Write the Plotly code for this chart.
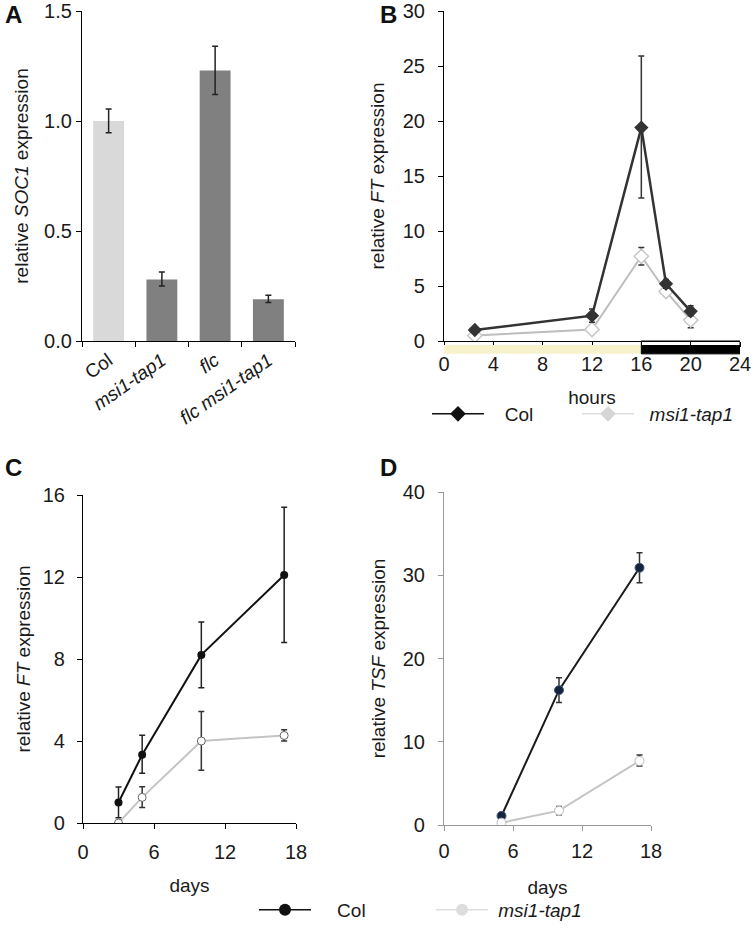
import plotly.graph_objects as go

W, H = 756, 931
FONT = "Liberation Sans, Arial, sans-serif"
NB = "\u00a0"

# panel A - SOC1
a_genotypes = ["Col", "<i>msi1-tap1</i>", "<i>flc</i>", "<i>flc msi1-tap1</i>"]
a_values = [1.0, 0.28, 1.23, 0.19]
a_err_up = [0.055, 0.034, 0.11, 0.018]
a_err_down = [0.053, 0.03, 0.11, 0.015]
a_colors = ["#d9d9d9", "#808080", "#808080", "#808080"]

# panel B - FT over the day
b_hours = [2.5, 12, 16, 18, 20]
b_col = [1.0, 2.3, 19.4, 5.2, 2.7]
b_col_up = [0.2, 0.6, 6.5, 0.4, 0.5]
b_col_down = [0.2, 0.6, 6.4, 0.4, 0.4]
b_msi = [0.5, 1.05, 7.7, 4.5, 1.9]
b_msi_up = [0.15, 0.2, 0.8, 0.3, 0.6]
b_msi_down = [0.15, 0.2, 0.8, 0.3, 0.7]

# panel C - FT over development
c_days = [3, 5, 10, 17]
c_col = [1.0, 3.33, 8.2, 12.1]
c_col_up = [0.75, 0.95, 1.6, 3.3]
c_col_down = [0.75, 0.9, 1.6, 3.3]
c_msi = [0.0, 1.25, 4.0, 4.27]
c_msi_up = [0.0, 0.52, 1.44, 0.28]
c_msi_down = [0.0, 0.5, 1.43, 0.27]

# panel D - TSF over development
d_days = [5, 10, 17]
d_col = [1.1, 16.2, 30.9]
d_col_up = [0.3, 1.5, 1.8]
d_col_down = [0.3, 1.5, 1.8]
d_msi = [0.28, 1.72, 7.7]
d_msi_up = [0.2, 0.5, 0.7]
d_msi_down = [0.2, 0.5, 0.6]


def xdom(x0, x1):
    return [x0 / W, x1 / W]


def ydom(top, bottom):
    return [1 - bottom / H, 1 - top / H]


def err(up, down, color="#333333"):
    return dict(type="data", symmetric=False, array=up, arrayminus=down,
                color=color, thickness=1.5, width=3)


fig = go.Figure()

fig.add_trace(go.Bar(
    x=a_genotypes, y=a_values, marker=dict(color=a_colors, line=dict(width=0)),
    width=0.58, error_y=err(a_err_up, a_err_down, "#222222"),
    xaxis="x", yaxis="y", showlegend=False))

fig.add_trace(go.Scatter(
    x=b_hours, y=b_msi, mode="lines+markers",
    line=dict(color="#bdbdbd", width=2),
    marker=dict(symbol="diamond", size=11, color="white", line=dict(color="#c8c8c8", width=1.5)),
    error_y=err(b_msi_up, b_msi_down), xaxis="x2", yaxis="y2", showlegend=False))
fig.add_trace(go.Scatter(
    x=b_hours, y=b_col, mode="lines+markers",
    line=dict(color="#333333", width=2.5),
    marker=dict(symbol="diamond", size=11, color="#333333"),
    error_y=err(b_col_up, b_col_down), xaxis="x2", yaxis="y2", showlegend=False))

fig.add_trace(go.Scatter(
    x=c_days, y=c_col, mode="lines+markers",
    line=dict(color="#111111", width=2),
    marker=dict(symbol="circle", size=8, color="#111111"),
    error_y=err(c_col_up, c_col_down, "#222222"), xaxis="x3", yaxis="y3", showlegend=False))
fig.add_trace(go.Scatter(
    x=c_days, y=c_msi, mode="lines+markers",
    line=dict(color="#c4c4c4", width=2),
    marker=dict(symbol="circle", size=8, color="white", line=dict(color="#666666", width=1)),
    error_y=err(c_msi_up, c_msi_down), xaxis="x3", yaxis="y3", showlegend=False))

fig.add_trace(go.Scatter(
    x=d_days, y=d_col, mode="lines+markers",
    line=dict(color="#1a1a1a", width=2),
    marker=dict(symbol="circle", size=9, color="#16243a", line=dict(color="#3d5c85", width=1)),
    error_y=err(d_col_up, d_col_down), xaxis="x4", yaxis="y4", showlegend=False))
fig.add_trace(go.Scatter(
    x=d_days, y=d_msi, mode="lines+markers",
    line=dict(color="#c4c4c4", width=2),
    marker=dict(symbol="circle", size=9, color="white", line=dict(color="#bbbbbb", width=1)),
    error_y=err(d_msi_up, d_msi_down), xaxis="x4", yaxis="y4", showlegend=False))

# legend-only entries, one legend per entry so each can be placed freely
legend_entries = [
    ("legend", NB * 3 + "Col", "diamond", "#111111", "#111111"),
    ("legend2", NB * 2 + "<i>msi1-tap1</i>", "diamond", "#dddddd", "#d6d6d6"),
    ("legend3", NB * 4 + "Col", "circle", "#111111", "#111111"),
    ("legend4", NB + "<i>msi1-tap1</i>", "circle", "#dddddd", "#dddddd"),
]
for leg, name, sym, lc, mc in legend_entries:
    fig.add_trace(go.Scatter(x=[None], y=[None], mode="lines+markers", name=name,
                             line=dict(color=lc, width=1.5),
                             marker=dict(symbol=sym, size=12, color=mc),
                             legend=leg, xaxis="x2", yaxis="y2"))

tick_font = dict(family=FONT, size=20, color="#1a1a1a")
title_font = dict(family=FONT, size=19, color="#1a1a1a")


def axis(domain, rng=None, line="#000000", **kw):
    d = dict(domain=domain, showline=True, linecolor=line, linewidth=1.2,
             ticks="outside", ticklen=5, tickcolor=line, showgrid=False,
             zeroline=False, tickfont=tick_font, title_font=title_font,
             automargin=False)
    if rng is not None:
        d["range"] = rng
    d.update(kw)
    return d


def legend_at(px, py):
    return dict(orientation="h", x=px / W, y=1 - py / H, xanchor="left", yanchor="top",
                font=dict(family=FONT, size=19, color="#1a1a1a"), itemwidth=52,
                bgcolor="rgba(0,0,0,0)")


fig.update_layout(
    width=W, height=H, margin=dict(l=0, r=0, t=0, b=0, autoexpand=False),
    paper_bgcolor="white", plot_bgcolor="white",
    font=dict(family=FONT, color="#1a1a1a"),
    xaxis=axis(xdom(82, 295), tickson="boundaries", tickangle=-35,
               anchor="y", tickfont=dict(family=FONT, size=19, color="#1a1a1a")),
    yaxis=axis(ydom(11, 341), [0, 1.5], anchor="x", tickvals=[0, 0.5, 1.0, 1.5],
               ticktext=["0.0", "0.5", "1.0", "1.5"],
               title=dict(text="relative <i>SOC1</i> expression", standoff=10)),
    xaxis2=axis(xdom(444, 740), [0, 24], anchor="y2", dtick=4, ticklabelstandoff=0,
                title=dict(text="hours", standoff=16)),
    yaxis2=axis(ydom(11, 341), [0, 30], anchor="x2", dtick=5, ticklabelstandoff=9,
                title=dict(text="relative <i>FT</i> expression", standoff=13)),
    xaxis3=axis(xdom(83, 296), [0, 18], anchor="y3", dtick=6, ticklabelstandoff=6,
                title=dict(text="days", standoff=16)),
    yaxis3=axis(ydom(495, 823), [0, 16], anchor="x3", dtick=4, ticklabelstandoff=8,
                title=dict(text="relative <i>FT</i> expression", standoff=7)),
    xaxis4=axis(xdom(444, 651), [0, 18], line="#999999", anchor="y4", dtick=6,
                ticklabelstandoff=3, title=dict(text="days", standoff=19)),
    yaxis4=axis(ydom(492, 825), [0, 40], line="#999999", anchor="x4", dtick=10,
                ticklabelstandoff=9, title=dict(text="relative <i>TSF</i> expression", standoff=12)),
    legend=legend_at(427, 395),
    legend2=legend_at(577, 395),
    legend3=legend_at(254, 891),
    legend4=legend_at(431, 891),
)

# light/dark period bar under panel B
fig.add_shape(type="rect", xref="x2", yref="y2 domain", x0=0, x1=16, y0=-0.039, y1=-0.012,
              fillcolor="#f8f2cc", line=dict(width=0), layer="above")
fig.add_shape(type="rect", xref="x2", yref="y2 domain", x0=16, x1=24, y0=-0.039, y1=-0.012,
              fillcolor="#000000", line=dict(width=0), layer="above")
fig.add_shape(type="rect", xref="x2", yref="y2 domain", x0=16, x1=24, y0=-0.039, y1=0,
              fillcolor="rgba(0,0,0,0)", line=dict(color="#000000", width=1), layer="above")

for label, px, py in [("A", 13, 14), ("B", 388, 14), ("C", 13, 468), ("D", 388, 468)]:
    fig.add_annotation(text="<b>%s</b>" % label, x=px / W, y=1 - py / H, xref="paper",
                       yref="paper", showarrow=False, xanchor="center", yanchor="middle",
                       font=dict(family=FONT, size=24, color="#111111"))

# the page body has a default 8px margin; drop it so the figure sits at the corner
fig.write_html("out.html", config={"displayModeBar": False},
               post_script="document.body.style.margin='0';")
